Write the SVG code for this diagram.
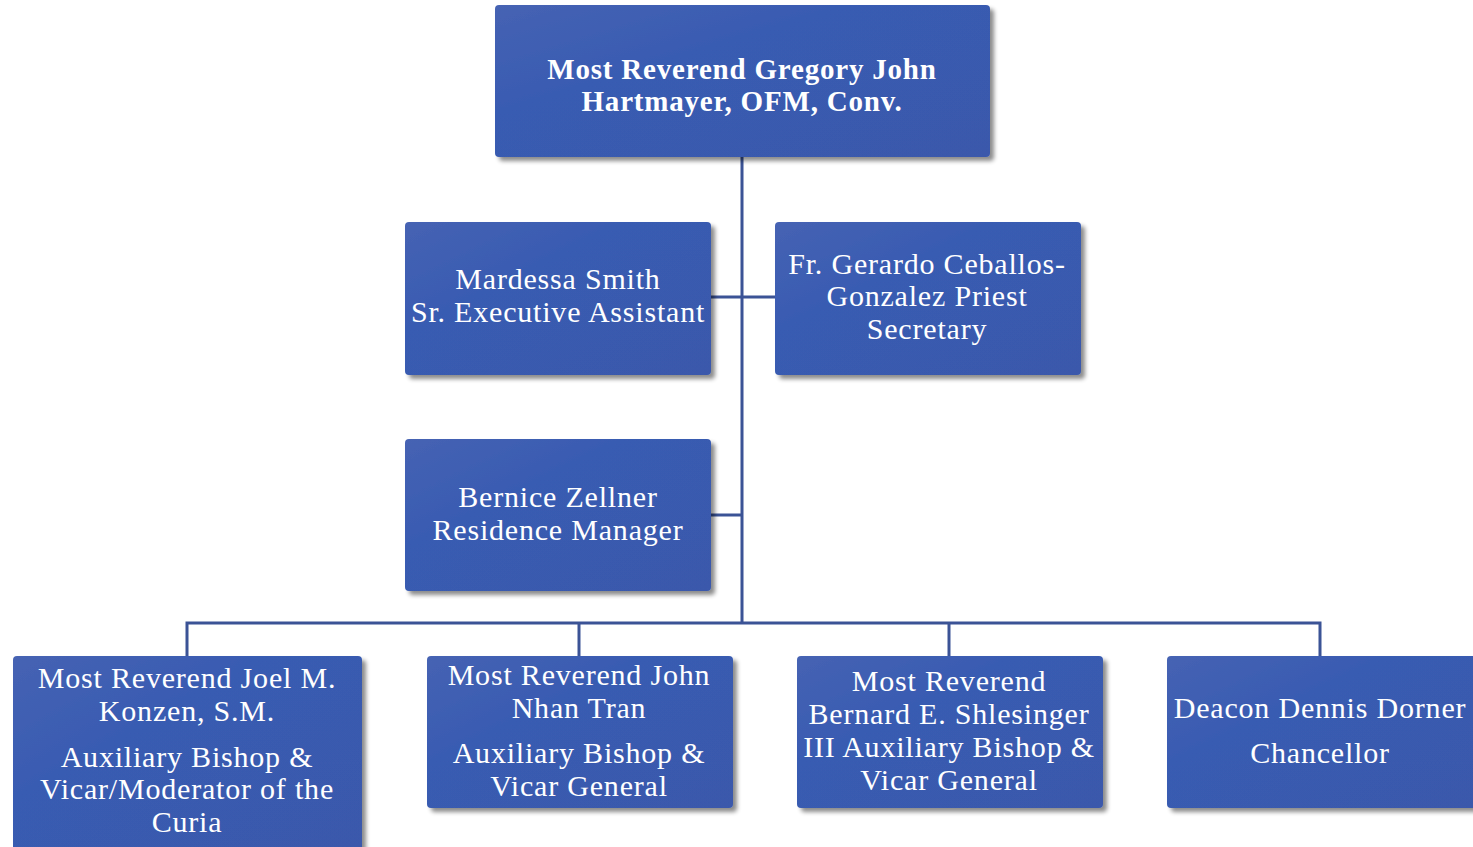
<svg xmlns="http://www.w3.org/2000/svg" width="1473" height="847" viewBox="0 0 1473 847">
<defs>
<linearGradient id="g" x1="0" y1="0" x2="1" y2="1">
<stop offset="0" stop-color="#4663b3"/>
<stop offset="0.35" stop-color="#395bb2"/>
<stop offset="1" stop-color="#3a59ab"/>
</linearGradient>
<filter id="sh" x="-5%" y="-5%" width="115%" height="120%">
<feDropShadow dx="4" dy="4" stdDeviation="2" flood-color="#000" flood-opacity="0.45"/>
</filter>
<style>
.box{fill:url(#g);filter:url(#sh);}
.t{font-family:"Liberation Serif","DejaVu Serif",serif;font-size:30px;letter-spacing:0.8px;fill:#ffffff;text-anchor:middle;}
.b{font-weight:bold;font-size:29px;}
.c{stroke:#3b5396;stroke-width:3;fill:none;}
</style>
</defs>
<rect width="1473" height="847" fill="#ffffff"/>
<g id="connectors">
<path class="c" d="M742 157 V623"/>
<path class="c" d="M711 297 H775"/>
<path class="c" d="M711 515 H742"/>
<path class="c" d="M187 656 V623 H1320 V656"/>
<path class="c" d="M579 623 V656"/>
<path class="c" d="M949 623 V656"/>
</g>
<g id="n-bishop">
<rect class="box" x="495" y="5" width="495" height="152" rx="4"/>
<text class="t b" x="742" y="79">Most Reverend Gregory John</text>
<text class="t b" x="742" y="111">Hartmayer, OFM, Conv.</text>
</g>
<g id="n-smith">
<rect class="box" x="405" y="222" width="306" height="153" rx="4"/>
<text class="t" x="558" y="289">Mardessa Smith</text>
<text class="t" x="558" y="322">Sr. Executive Assistant</text>
</g>
<g id="n-ceballos">
<rect class="box" x="775" y="222" width="306" height="153" rx="4"/>
<text class="t" x="927" y="274">Fr. Gerardo Ceballos-</text>
<text class="t" x="927" y="306">Gonzalez Priest</text>
<text class="t" x="927" y="339">Secretary</text>
</g>
<g id="n-zellner">
<rect class="box" x="405" y="439" width="306" height="152" rx="4"/>
<text class="t" x="558" y="507">Bernice Zellner</text>
<text class="t" x="558" y="540">Residence Manager</text>
</g>
<g id="n-konzen">
<rect class="box" x="13" y="656" width="349" height="200" rx="4"/>
<text class="t" x="187" y="688">Most Reverend Joel M.</text>
<text class="t" x="187" y="721">Konzen, S.M.</text>
<text class="t" x="187" y="767">Auxiliary Bishop &amp;</text>
<text class="t" x="187" y="799">Vicar/Moderator of the</text>
<text class="t" x="187" y="832">Curia</text>
</g>
<g id="n-tran">
<rect class="box" x="427" y="656" width="306" height="152" rx="4"/>
<text class="t" x="579" y="685">Most Reverend John</text>
<text class="t" x="579" y="718">Nhan Tran</text>
<text class="t" x="579" y="763">Auxiliary Bishop &amp;</text>
<text class="t" x="579" y="796">Vicar General</text>
</g>
<g id="n-shlesinger">
<rect class="box" x="797" y="656" width="306" height="152" rx="4"/>
<text class="t" x="949" y="691">Most Reverend</text>
<text class="t" x="949" y="724">Bernard E. Shlesinger</text>
<text class="t" x="949" y="757">III Auxiliary Bishop &amp;</text>
<text class="t" x="949" y="790">Vicar General</text>
</g>
<g id="n-dorner">
<rect class="box" x="1167" y="656" width="310" height="152" rx="4"/>
<text class="t" x="1320" y="718">Deacon Dennis Dorner</text>
<text class="t" x="1320" y="763">Chancellor</text>
</g>
</svg>
